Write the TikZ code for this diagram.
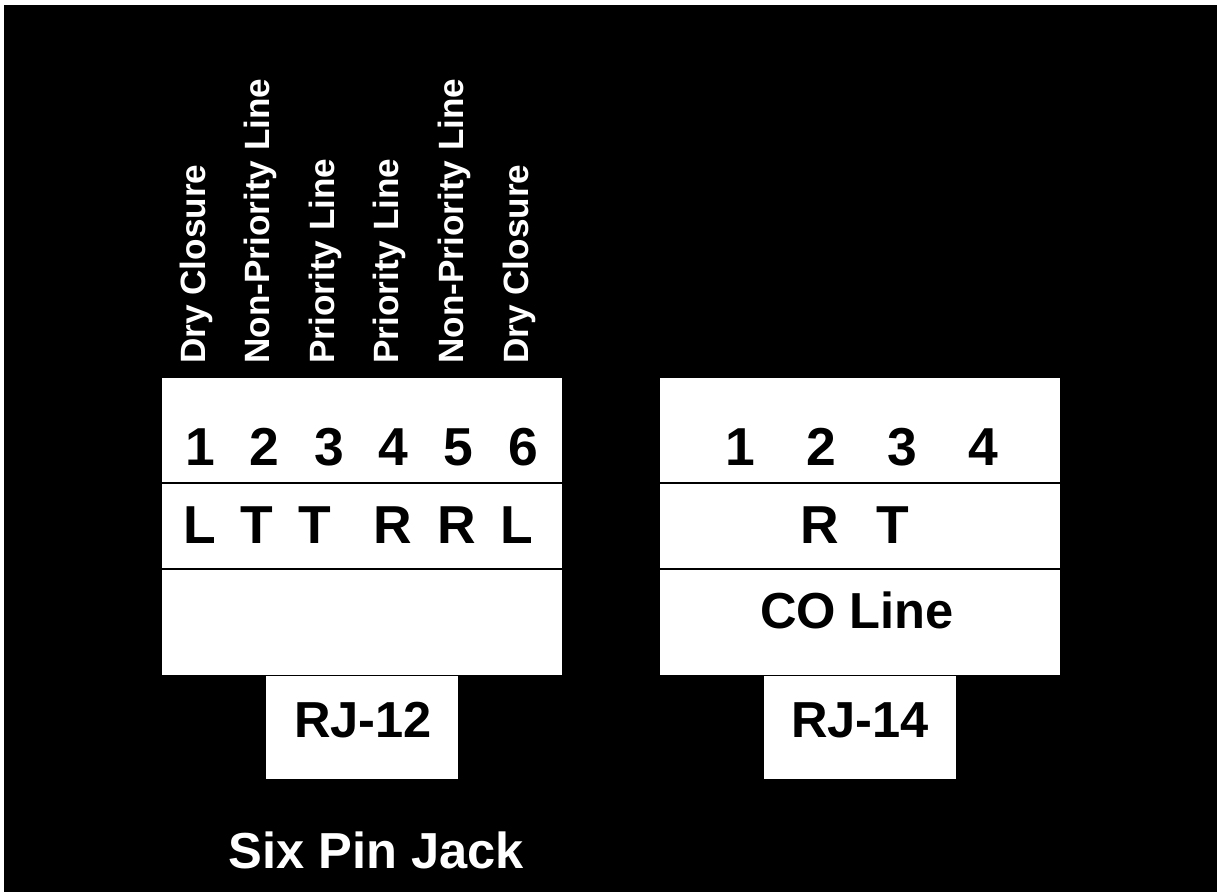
\documentclass[tikz,border=0pt]{standalone}
\usepackage{fontspec}
\setmainfont{Liberation Sans}
\usetikzlibrary{positioning, calc}

\begin{document}
\begin{tikzpicture}[
        body/.style={rectangle, draw=none, fill=white, minimum width=10cm, minimum height=7.425cm, inner sep=0pt},
        tab/.style={rectangle, draw=none, fill=white, minimum width=4.8cm, minimum height=2.575cm, inner sep=0pt},
        pin/.style={anchor=base, inner sep=0pt, font=\fontsize{38}{40}\selectfont\bfseries},
        tag/.style={anchor=base, inner sep=0pt, font=\fontsize{36}{38}\selectfont\bfseries},
        wire/.style={anchor=west, rotate=90, inner sep=0pt, text=white, font=\fontsize{25}{27}\selectfont\bfseries},
        divider/.style={draw=black, line width=1.6pt}
    ]

        % ================= FONDO =================
        \fill[white] (0,0) rectangle (30.425,22.3);
        \fill[black] (0.1,0) rectangle (30.425,22.175);

        % ================= RJ-12 =================
        \node[body] (body12) at (9.05, 9.1375) {};
        \node[tab, below=0pt of body12] (tab12) {};

        \draw[divider] ([yshift=-2.625cm]body12.north west) -- ([yshift=-2.625cm]body12.north east);
        \draw[divider] ([yshift=-4.775cm]body12.north west) -- ([yshift=-4.775cm]body12.north east);

        \foreach \n in {1,...,6}
            \node[pin] (pa\n) at ({5.0+(\n-1)*1.615}, 10.675) {\n};

        \foreach \x/\l [count=\i] in {5.0/L, 6.425/T, 7.875/T, 9.825/R, 11.425/R, 12.925/L}
            \node[pin] (wa\i) at (\x, 8.725) {\l};

        \foreach \lab [count=\i] in {Dry Closure, Non-Priority Line, Priority Line, Priority Line, Non-Priority Line, Dry Closure}
            \node[wire] (lab\i) at ({4.9+(\i-1)*1.615}, 13.2) {\lab};

        \node[tag] (name12) at (9.075, 3.875) {RJ-12};

        % ================= RJ-14 =================
        \node[body] (body14) at (21.5, 9.1375) {};
        \node[tab, below=0pt of body14] (tab14) {};

        \draw[divider] ([yshift=-2.625cm]body14.north west) -- ([yshift=-2.625cm]body14.north east);
        \draw[divider] ([yshift=-4.775cm]body14.north west) -- ([yshift=-4.775cm]body14.north east);

        \foreach \n in {1,...,4}
            \node[pin] (pb\n) at ({18.5+(\n-1)*2.025}, 10.675) {\n};

        \node[pin] (ring) at (20.5, 8.725) {R};
        \node[pin] (tip) at (22.325, 8.725) {T};
        \node[tag] (coline) at (21.425, 6.6) {CO Line};

        \node[tag] (name14) at (21.5, 3.875) {RJ-14};

        % ================= TITULO =================
        \node[tag, text=white] (title) at (9.4, 0.6) {Six Pin Jack};

    \end{tikzpicture}
\end{document}
